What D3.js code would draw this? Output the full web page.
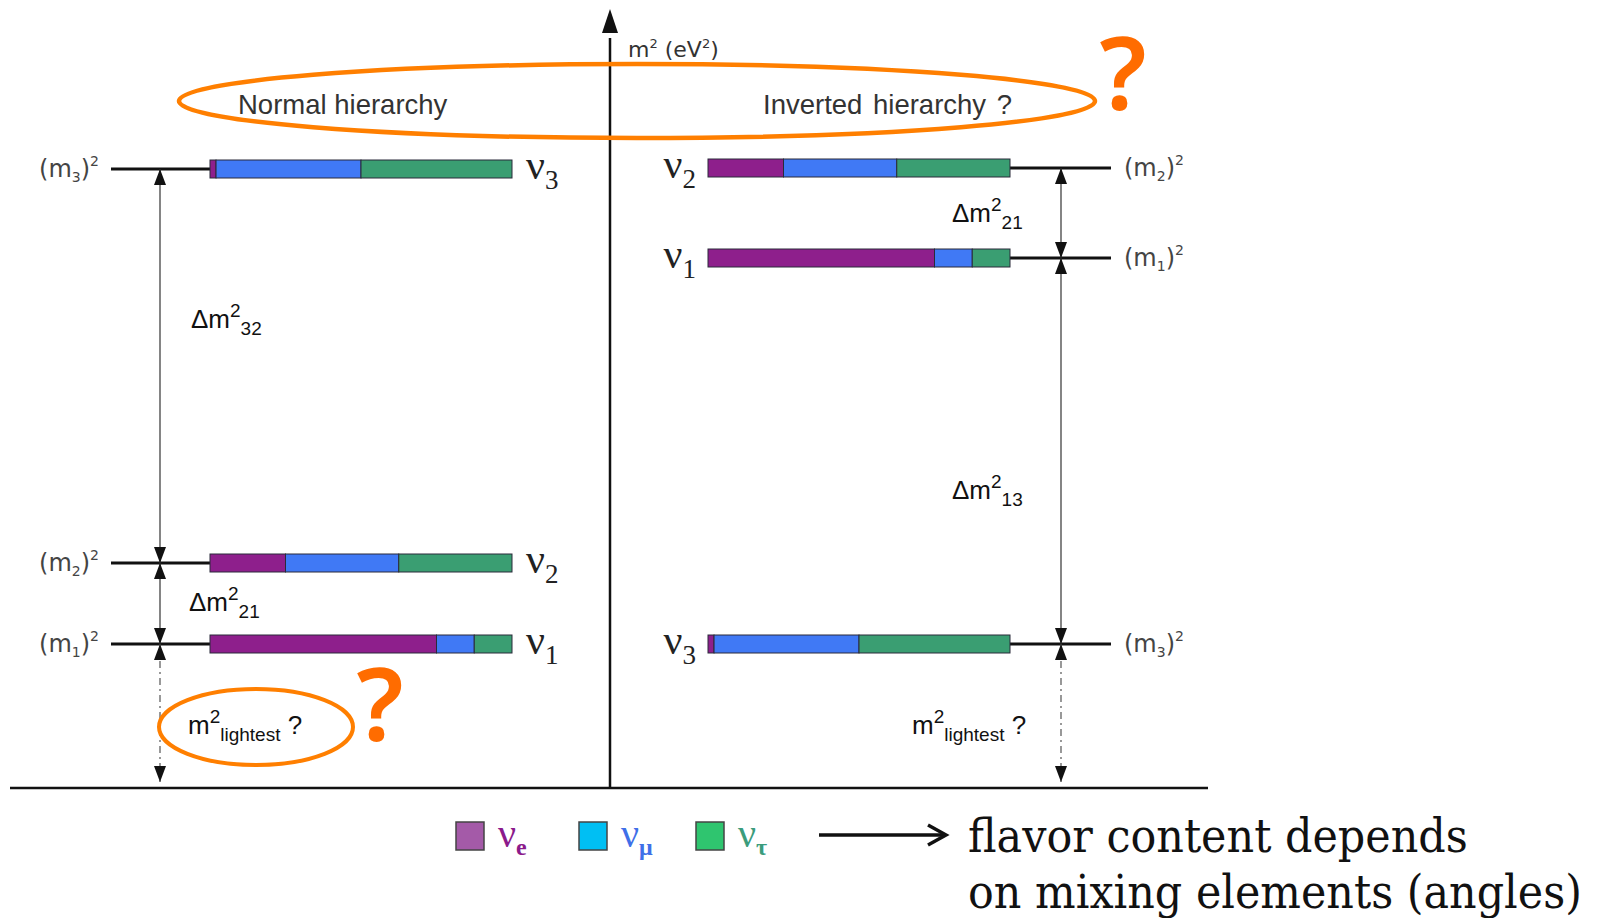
<!DOCTYPE html>
<html>
<head>
<meta charset="utf-8">
<script src="https://cdn.jsdelivr.net/npm/d3@7"></script>
<style>
  body { margin: 0; background: #fff; }
  svg { display: block; }
</style>
</head>
<body>
<svg id="chart" width="1606" height="918"></svg>
<script>
// Mass eigenstates ν1, ν2, ν3
const states = ["1", "2", "3"];
// Flavour content (νe, νμ, ντ fractions) of each mass eigenstate
const fracE   = [0.75, 0.25, 0.02];
const fracMu  = [0.125, 0.375, 0.48];
const fracTau = [0.125, 0.375, 0.50];
// Schematic m² levels (arbitrary units) of ν1, ν2, ν3 in each ordering
const levelNormal   = [14.4, 22.5, 61.9];
const levelInverted = [53.0, 62.0, 14.4];
// Flavour names and colours
const flavorNames  = ["e", "μ", "τ"];
const barColors    = ["#8E1F8C", "#4079F5", "#3A9E72"];
const legendFill   = ["#A45AA8", "#00BFF3", "#2FC56F"];
const legendInk    = ["#8B1A8B", "#3F6FE8", "#3B9C7C"];
// Headings
const orderingTitles = ["Normal hierarchy", "Inverted hierarchy ?"];
const noteLines = ["flavor content depends", "on mixing elements (angles)"];

const svg = d3.select("#chart");
const sans = "'Liberation Sans', Arial, sans-serif";
const wideSans = "'DejaVu Sans', Verdana, sans-serif";
const serif = "'Liberation Serif', 'Times New Roman', serif";
const orange = "#FF7F00";
const qOrange = "#FF6C00";

const y = d3.scaleLinear().domain([0, 78]).range([788, 8]);
const xNormal = d3.scaleLinear().domain([0, 1]).range([210, 512]);
const xInverted = d3.scaleLinear().domain([0, 1]).range([708, 1010]);
const axisX = 610;

// ---- axes ----
svg.append("line")
  .attr("x1", 10).attr("x2", 1208)
  .attr("y1", y(0)).attr("y2", y(0))
  .attr("stroke", "#111").attr("stroke-width", 2.5);
svg.append("line")
  .attr("x1", axisX).attr("x2", axisX)
  .attr("y1", y(0)).attr("y2", y(75))
  .attr("stroke", "#111").attr("stroke-width", 2.5);
svg.append("path")
  .attr("d", `M${axisX},${y(78) + 1} L${axisX - 8},${y(75.5)} L${axisX + 8},${y(75.5)} Z`)
  .attr("fill", "#111");

const axisLabel = svg.append("text")
  .attr("x", 628).attr("y", 57)
  .attr("font-family", wideSans).attr("font-size", 22).attr("fill", "#333");
axisLabel.append("tspan").text("m");
axisLabel.append("tspan").attr("dy", -9).attr("font-size", 13).text("2");
axisLabel.append("tspan").attr("dy", 9).text(" (eV");
axisLabel.append("tspan").attr("dy", -9).attr("font-size", 13).text("2");
axisLabel.append("tspan").attr("dy", 9).text(")");

// ---- headings ----
svg.append("text").attr("x", 238).attr("y", 114)
  .attr("font-family", sans).attr("font-size", 27.5).attr("fill", "#333")
  .text(orderingTitles[0]);
svg.append("text").attr("x", 763).attr("y", 114)
  .attr("font-family", sans).attr("font-size", 27.5).attr("fill", "#333")
  .attr("word-spacing", 3)
  .text(orderingTitles[1]);

// ---- helpers ----
function massLabel(x, yPos, i, anchor) {
  const t = svg.append("text")
    .attr("x", x).attr("y", yPos + 8)
    .attr("text-anchor", anchor)
    .attr("font-family", wideSans).attr("font-size", 24).attr("fill", "#444");
  t.append("tspan").text("(m");
  t.append("tspan").attr("dy", 5).attr("font-size", 14).text(states[i]);
  t.append("tspan").attr("dy", -5).text(")");
  t.append("tspan").attr("dy", -11).attr("font-size", 14).text("2");
}

function nuLabel(x, yPos, i, anchor) {
  const t = svg.append("text")
    .attr("x", x).attr("y", yPos + 10)
    .attr("text-anchor", anchor)
    .attr("font-family", serif).attr("fill", "#222");
  t.append("tspan").attr("font-size", 42).text("ν");
  t.append("tspan").attr("dy", 10).attr("font-size", 27).text(states[i]);
}

function bar(xs, i, yPos) {
  const cuts = [0, fracE[i], fracE[i] + fracMu[i], fracE[i] + fracMu[i] + fracTau[i]];
  const g = svg.append("g");
  g.selectAll("rect").data(flavorNames).join("rect")
    .attr("x", (d, k) => xs(cuts[k]))
    .attr("width", (d, k) => xs(cuts[k + 1]) - xs(cuts[k]))
    .attr("y", yPos - 9).attr("height", 18)
    .attr("fill", (d, k) => barColors[k])
    .attr("stroke", "#2a2a3a").attr("stroke-width", 1);
}

function head(x, tipY, dir) {
  // dir = -1 points up, +1 points down
  svg.append("path")
    .attr("d", `M${x},${tipY} L${x - 6},${tipY - dir * 16} L${x + 6},${tipY - dir * 16} Z`)
    .attr("fill", "#111");
}

function span(x, yLow, yHigh, dashed) {
  svg.append("line")
    .attr("x1", x).attr("x2", x)
    .attr("y1", yHigh).attr("y2", yLow)
    .attr("stroke", dashed ? "#555" : "#333")
    .attr("stroke-width", 1.2)
    .attr("stroke-dasharray", dashed ? "7,4,2,4" : null);
  head(x, yHigh, -1);
  head(x, yLow, 1);
}

function deltaLabel(x, yPos, sub) {
  const t = svg.append("text").attr("x", x).attr("y", yPos)
    .attr("font-family", sans).attr("font-size", 26).attr("fill", "#111");
  t.append("tspan").text("Δm");
  t.append("tspan").attr("dy", -11).attr("font-size", 19).text("2");
  t.append("tspan").attr("dy", 18).attr("font-size", 19).text(sub);
}

function lightestLabel(x, yPos) {
  const t = svg.append("text").attr("x", x).attr("y", yPos)
    .attr("font-family", sans).attr("font-size", 26).attr("fill", "#111");
  t.append("tspan").text("m");
  t.append("tspan").attr("dy", -11).attr("font-size", 19).text("2");
  t.append("tspan").attr("dy", 18).attr("font-size", 19).text("lightest");
  t.append("tspan").attr("dy", -7).text(" ?");
}

// ---- normal ordering (left) ----
states.forEach((s, i) => {
  const yl = y(levelNormal[i]);
  svg.append("line")
    .attr("x1", 111).attr("x2", xNormal(0))
    .attr("y1", yl).attr("y2", yl)
    .attr("stroke", "#111").attr("stroke-width", 3);
  bar(xNormal, i, yl);
  massLabel(99, yl, i, "end");
  nuLabel(xNormal(1) + 14, yl, i, "start");
});
const nhX = 160;
span(nhX, y(levelNormal[1]), y(levelNormal[2]), false);
span(nhX, y(levelNormal[0]), y(levelNormal[1]), false);
span(nhX, y(0) - 6, y(levelNormal[0]), true);
deltaLabel(191, 328, "32");
deltaLabel(189, 611, "21");
lightestLabel(188, 734);

// ---- inverted ordering (right) ----
states.forEach((s, i) => {
  const yl = y(levelInverted[i]);
  svg.append("line")
    .attr("x1", xInverted(1)).attr("x2", 1111)
    .attr("y1", yl).attr("y2", yl)
    .attr("stroke", "#111").attr("stroke-width", 3);
  bar(xInverted, i, yl);
  massLabel(1124, yl, i, "start");
  nuLabel(xInverted(0) - 12, yl, i, "end");
});
const ihX = 1061;
span(ihX, y(levelInverted[0]), y(levelInverted[1]), false);
span(ihX, y(levelInverted[2]), y(levelInverted[0]), false);
span(ihX, y(0) - 6, y(levelInverted[2]), true);
deltaLabel(952, 222, "21");
deltaLabel(952, 499, "13");
lightestLabel(912, 734);

// ---- orange highlights ----
svg.append("ellipse")
  .attr("cx", 637).attr("cy", 101).attr("rx", 458).attr("ry", 37)
  .attr("fill", "none").attr("stroke", orange).attr("stroke-width", 4.5);
svg.append("ellipse")
  .attr("cx", 256).attr("cy", 727).attr("rx", 97).attr("ry", 38)
  .attr("fill", "none").attr("stroke", orange).attr("stroke-width", 4);
[[1123, 110], [380, 741]].forEach(([qx, qy]) => {
  svg.append("text").attr("x", qx).attr("y", qy)
    .attr("text-anchor", "middle")
    .attr("font-family", "'Noto Sans', 'DejaVu Sans', sans-serif")
    .attr("font-weight", 600).attr("font-size", 102)
    .attr("fill", qOrange).text("?");
});

// ---- legend ----
const legendX = [456, 579, 696];
flavorNames.forEach((f, k) => {
  svg.append("rect")
    .attr("x", legendX[k]).attr("y", 822).attr("width", 28).attr("height", 28)
    .attr("fill", legendFill[k]).attr("stroke", "#444").attr("stroke-width", 1.5);
  const t = svg.append("text").attr("x", legendX[k] + 42).attr("y", 847)
    .attr("font-family", serif).attr("fill", legendInk[k]);
  t.append("tspan").attr("font-size", 40).text("ν");
  t.append("tspan").attr("dy", 8).attr("font-size", 24).attr("font-weight", 700).text(f);
});

// ---- note ----
svg.append("line")
  .attr("x1", 819).attr("x2", 944).attr("y1", 835).attr("y2", 835)
  .attr("stroke", "#111").attr("stroke-width", 3.5);
svg.append("path")
  .attr("d", "M928,825 L946,835 L928,845")
  .attr("fill", "none").attr("stroke", "#111").attr("stroke-width", 3.5);
// each line is squeezed horizontally to its set width
[[852, 500], [908, 614]].forEach(([by, w], k) => {
  const t = svg.append("text")
    .attr("font-family", "'DejaVu Serif', serif").attr("font-size", 46)
    .attr("fill", "#111")
    .text(noteLines[k]);
  const natural = t.node().getComputedTextLength();
  t.attr("transform", `translate(968,${by}) scale(${w / natural},1)`);
});
</script>
</body>
</html>
